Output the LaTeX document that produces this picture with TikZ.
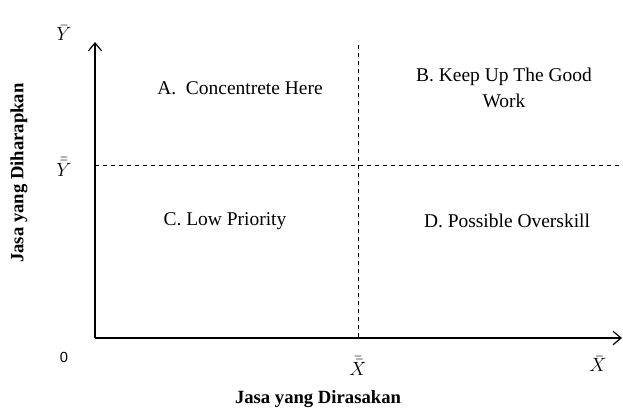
\documentclass[tikz,border=0pt]{standalone}
\usepackage{fontspec}
\setmainfont{Liberation Serif}
\newfontfamily\zerofont{Liberation Sans}
\usetikzlibrary{positioning,arrows.meta}
\tikzstyle{qbox}=[rectangle, align=center, font=\fontsize{14.6}{19.5}\selectfont]
\tikzstyle{albl}=[inner sep=1pt, font=\fontsize{14}{16}\selectfont]
\tikzstyle{ttl}=[font=\fontsize{14}{16}\selectfont\bfseries]
\tikzstyle{axis}=[-{Straight Barb[length=6pt,width=10pt]}, line width=0.9pt]
\tikzstyle{dline}=[-, dashed, line width=0.6pt]
\begin{document}
\begin{tikzpicture}[x=0.75pt,y=-0.75pt]
\useasboundingbox (0,0) rectangle (623,412);

\coordinate (O) at (95,338);
\coordinate (YT) at (95,42);
\coordinate (XR) at (622,338);
\coordinate (VT) at (358,45);
\coordinate (VB) at (358,338);
\coordinate (HL) at (95,165);
\coordinate (HR) at (622,165);

\draw[dline] (VT) -- (VB);
\draw[dline] (HL) -- (HR);
\draw[axis] (O) -- (YT);
\draw[axis] (O) -- (XR);

\node (YBAR) [albl] at (64,33) {$\bar{Y}$};
\node (YBB) [albl] at (64,167) {$\bar{\bar{Y}}$};
\node (ZERO) [albl] at (64,357) {\zerofont\fontsize{11}{13}\selectfont 0};
\node (XBB) [albl] at (358,366) {$\bar{\bar{X}}$};
\node (XBAR) [albl] at (598,364) {$\bar{X}$};

\node (QA) [qbox] at (240,88) {A.\ \ Concentrete Here};
\node (QB) [qbox] at (504,88) {B. Keep Up The Good\\Work};
\node (QC) [qbox] at (225,221) {C. Low Priority};
\node (QD) [qbox] at (507,221) {D. Possible Overskill};

\node (XTTL) [ttl] at (318,399) {Jasa yang Dirasakan};
\node (YTTL) [ttl, rotate=90] at (19,173) {Jasa yang Diharapkan};

\end{tikzpicture}
\end{document}
